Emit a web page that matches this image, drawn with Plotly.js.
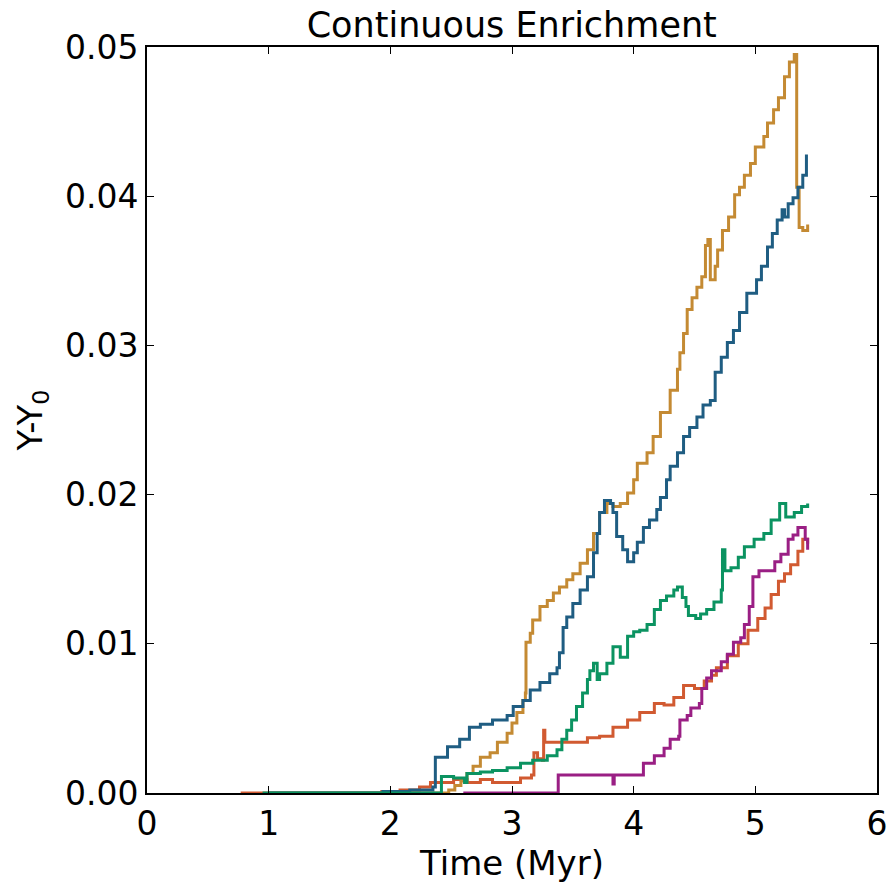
<!DOCTYPE html>
<html>
<head>
<meta charset="utf-8">
<script src="https://cdn.plot.ly/plotly-3.0.1.min.js"></script>
<style>html,body{margin:0;padding:0;background:#fff;}#chart{width:890px;height:883px;}</style>
</head>
<body>
<div id="chart"></div>
<script>
// Series (Time in Myr, Y-Y0)
const goldX = [1.00,2.43,2.48,2.53,2.58,2.63,2.68,2.74,2.82,2.88,2.96,3.00,3.04,3.09,3.11,3.115,3.15,3.17,3.23,3.29,3.34,3.39,3.45,3.50,3.56,3.62,3.67,3.72,3.78,3.83,3.89,3.95,4.00,4.03,4.11,4.16,4.22,4.30,4.36,4.38,4.41,4.44,4.48,4.52,4.56,4.59,4.61,4.63,4.67,4.69,4.73,4.78,4.83,4.87,4.91,4.96,5.00,5.07,5.10,5.15,5.19,5.24,5.28,5.32,5.34,5.36,5.39,5.43];
const goldY = [0,0,0.0002,0.0005,0.0008,0.0013,0.0018,0.0024,0.0027,0.0034,0.0040,0.0047,0.0054,0.0062,0.0067,0.0101,0.0107,0.0116,0.0125,0.0129,0.0134,0.0138,0.0143,0.0147,0.0154,0.0163,0.0174,0.0188,0.0194,0.0192,0.0194,0.0201,0.0210,0.0221,0.0228,0.0239,0.0255,0.0270,0.0284,0.0295,0.0308,0.0324,0.0332,0.0339,0.0346,0.0367,0.0371,0.0344,0.0353,0.0364,0.0377,0.0386,0.0401,0.0406,0.0414,0.0422,0.0433,0.0440,0.0449,0.0458,0.0466,0.0480,0.0490,0.0495,0.0406,0.0379,0.0377,0.0381];

const blueX = [1.00,1.94,2.16,2.35,2.37,2.47,2.57,2.65,2.74,2.84,2.96,3.01,3.09,3.15,3.23,3.31,3.37,3.39,3.42,3.45,3.50,3.56,3.62,3.67,3.70,3.72,3.76,3.81,3.83,3.86,3.91,3.95,4.00,4.03,4.08,4.13,4.19,4.22,4.27,4.30,4.36,4.41,4.46,4.52,4.57,4.63,4.67,4.72,4.77,4.82,4.87,4.93,4.98,5.01,5.05,5.10,5.14,5.18,5.22,5.24,5.27,5.31,5.35,5.39,5.42];
const blueY = [0,0.0001,0.0002,0.0004,0.0024,0.0031,0.0036,0.0044,0.0046,0.0049,0.0052,0.0058,0.0062,0.0069,0.0074,0.0080,0.0084,0.0094,0.0111,0.0118,0.0127,0.0136,0.0145,0.0161,0.0174,0.0188,0.0196,0.0194,0.0188,0.0172,0.0163,0.0155,0.0161,0.0168,0.0178,0.0183,0.0190,0.0198,0.0210,0.0219,0.0228,0.0239,0.0245,0.0252,0.0260,0.0263,0.0282,0.0292,0.0302,0.0310,0.0322,0.0335,0.0335,0.0344,0.0353,0.0366,0.0375,0.0384,0.0391,0.0386,0.0395,0.0399,0.0406,0.0414,0.0428];

const greenX = [0.95,2.41,2.42,2.52,2.61,2.63,2.74,2.84,2.96,3.07,3.17,3.29,3.37,3.41,3.45,3.49,3.53,3.58,3.62,3.64,3.67,3.70,3.72,3.78,3.83,3.89,3.95,4.00,4.05,4.11,4.17,4.22,4.27,4.33,4.36,4.40,4.43,4.45,4.51,4.55,4.60,4.66,4.72,4.73,4.75,4.80,4.86,4.91,4.99,5.07,5.13,5.20,5.25,5.32,5.38,5.43];
const greenY = [0,0,0.0011,0.0010,0.0007,0.0013,0.0014,0.0015,0.0017,0.0020,0.0022,0.0025,0.0029,0.0036,0.0042,0.0049,0.0058,0.0067,0.0076,0.0082,0.0087,0.0076,0.0080,0.0087,0.0098,0.0091,0.0105,0.0108,0.0109,0.0113,0.0123,0.0129,0.0132,0.0136,0.0138,0.0131,0.0125,0.0119,0.0117,0.0120,0.0123,0.0128,0.0136,0.0163,0.0149,0.0151,0.0158,0.0165,0.0170,0.0174,0.0183,0.0194,0.0185,0.0188,0.0192,0.0194];

const redX = [0.77,1.93,2.08,2.24,2.33,2.42,2.52,2.63,2.74,2.84,2.96,3.07,3.16,3.18,3.21,3.25,3.26,3.27,3.34,3.42,3.50,3.62,3.72,3.83,3.95,4.05,4.17,4.25,4.33,4.41,4.50,4.58,4.64,4.68,4.77,4.86,4.94,5.02,5.08,5.13,5.19,5.24,5.29,5.35,5.39,5.43];
const redY = [0,0.0001,0.0002,0.0004,0.0007,0.0007,0.0009,0.0007,0.0009,0.0007,0.0007,0.0010,0.0012,0.0027,0.0023,0.0022,0.0042,0.0034,0.0034,0.0034,0.0034,0.0037,0.0038,0.0044,0.0049,0.0054,0.0060,0.0059,0.0064,0.0072,0.0070,0.0075,0.0079,0.0084,0.0092,0.0100,0.0109,0.0117,0.0124,0.0133,0.0142,0.0147,0.0153,0.0162,0.0170,0.0167];

const purpleX = [2.60,3.37,3.38,3.82,3.83,3.84,4.05,4.08,4.17,4.25,4.30,4.37,4.38,4.44,4.47,4.54,4.56,4.60,4.64,4.72,4.77,4.82,4.88,4.91,4.95,4.98,5.03,5.09,5.16,5.21,5.27,5.31,5.35,5.38,5.41,5.43];
const purpleY = [0,0,0.0012,0.0012,0.0006,0.0012,0.0012,0.0020,0.0025,0.0030,0.0036,0.0038,0.0049,0.0052,0.0057,0.0060,0.0070,0.0077,0.0082,0.0088,0.0093,0.0101,0.0104,0.0113,0.0125,0.0145,0.0149,0.0149,0.0155,0.0160,0.0170,0.0173,0.0178,0.0178,0.0170,0.0163];

const xTicks = [0,1,2,3,4,5,6];
const yTicks = [0,0.01,0.02,0.03,0.04,0.05];
const yTickText = ['0.00','0.01','0.02','0.03','0.04','0.05'];

const colors = {gold:'#c48a33', blue:'#1f5d82', green:'#0b9361', red:'#d15a31', purple:'#9a1f84'};

function tr(x, y, c) {
  return {x: x, y: y, type: 'scatter', mode: 'lines', line: {color: c, width: 3, shape: 'hv'}, hoverinfo: 'skip'};
}
const data = [
  tr(redX, redY, colors.red),
  tr(goldX, goldY, colors.gold),
  tr(blueX, blueY, colors.blue),
  tr(greenX, greenY, colors.green),
  tr(purpleX, purpleY, colors.purple)
];

const layout = {
  width: 890, height: 883,
  margin: {l: 147, r: 13, t: 47, b: 90},
  paper_bgcolor: '#fff', plot_bgcolor: '#fff',
  showlegend: false,
  title: {text: 'Continuous Enrichment', font: {family: 'DejaVu Sans', size: 35, color: '#000'}, x: 0.575, xanchor: 'center', y: 0.972, yanchor: 'middle'},
  xaxis: {
    range: [0, 6], tickvals: xTicks, ticktext: xTicks.map(String),
    showgrid: false, zeroline: false, showline: true, linecolor: '#000', linewidth: 2,
    mirror: 'ticks', ticks: 'inside', ticklen: 7, tickwidth: 1, tickcolor: '#000',
    tickfont: {family: 'DejaVu Sans', size: 33, color: '#000'},
    title: {text: 'Time (Myr)', font: {family: 'DejaVu Sans', size: 34, color: '#000'}, standoff: 6}
  },
  yaxis: {
    range: [0, 0.05], tickvals: yTicks, ticktext: yTickText,
    showgrid: false, zeroline: false, showline: true, linecolor: '#000', linewidth: 2,
    mirror: 'ticks', ticks: 'inside', ticklen: 7, tickwidth: 1, tickcolor: '#000',
    tickfont: {family: 'DejaVu Sans', size: 33, color: '#000'},
    title: {text: 'Y-Y<sub>0</sub>', font: {family: 'DejaVu Sans', size: 34, color: '#000'}, standoff: 12}
  },
  font: {family: 'DejaVu Sans', color: '#000'}
};
Plotly.newPlot('chart', data, layout, {displayModeBar: false, staticPlot: true});
</script>
</body>
</html>
